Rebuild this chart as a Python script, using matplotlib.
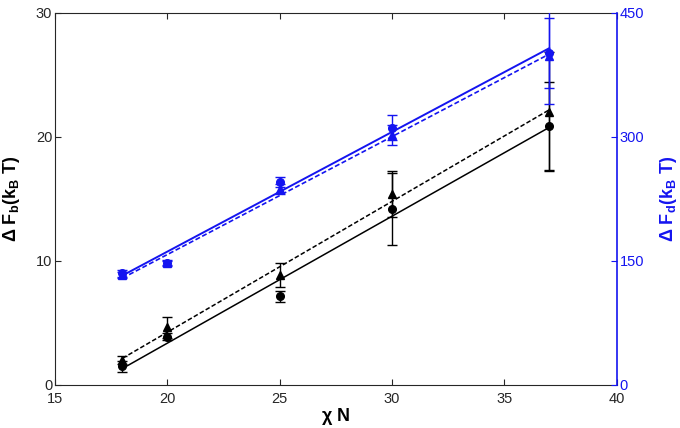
import numpy as np
import matplotlib
matplotlib.use('Agg')
import matplotlib.pyplot as plt

plt.rcParams['font.family'] = ['Liberation Sans', 'DejaVu Sans']
plt.rcParams['mathtext.fontset'] = 'custom'
plt.rcParams['mathtext.rm'] = 'Liberation Sans'
plt.rcParams['mathtext.bf'] = 'Liberation Sans:bold'
plt.rcParams['mathtext.it'] = 'Liberation Sans:italic'
plt.rcParams['mathtext.default'] = 'regular'

# chi N values
chi_n = [18, 20, 25, 30, 37]

# barrier free energy (left axis), circles and triangles
fb_circle = [1.5, 3.9, 7.15, 14.15, 20.85]
fb_circle_err = [0.45, 0.25, 0.45, 2.9, 3.55]
fb_tri = [2.0, 4.65, 8.85, 15.4, 22.0]
fb_tri_err = [0.3, 0.85, 0.95, 1.85, 4.8]

# defect free energy (right axis)
fd_circle = [135, 148, 245, 311, 401]
fd_circle_err = [4, 3, 6, 15, 42]
fd_tri = [133, 147, 237, 302, 397]
fd_tri_err = [4, 3, 6, 12, 57]

x_ticks = [15, 20, 25, 30, 35, 40]
left_ticks = [0, 10, 20, 30]
right_ticks = [0, 150, 300, 450]

BLUE = '#1414f0'
AXIS = '#262626'


def fit_line(x, y):
    p = np.polyfit(x, y, 1)
    xs = np.array([min(x), max(x)])
    return xs, np.polyval(p, xs)


fig = plt.figure(figsize=(6.8, 4.28), dpi=100)
ax = fig.add_axes([0.081, 0.1005, 0.826, 0.870])
ax2 = ax.twinx()

# black data on the left axis
ax.errorbar(chi_n, fb_circle, yerr=fb_circle_err, fmt='o', color='black',
            ms=5.5, capsize=3.5, elinewidth=1, capthick=1)
ax.errorbar(chi_n, fb_tri, yerr=fb_tri_err, fmt='^', color='black',
            ms=6, capsize=3.5, elinewidth=1, capthick=1)
xs, ys = fit_line(chi_n, fb_circle)
ax.plot(xs, ys, '-', color='black', lw=1.1)
xs, ys = fit_line(chi_n, fb_tri)
ax.plot(xs, ys, '--', color='black', lw=1.1, dashes=(3, 1.5))

# blue data on the right axis
ax2.errorbar(chi_n, fd_circle, yerr=fd_circle_err, fmt='o', color=BLUE,
             ms=5.5, capsize=3.5, elinewidth=1, capthick=1)
ax2.errorbar(chi_n, fd_tri, yerr=fd_tri_err, fmt='^', color=BLUE,
             ms=6, capsize=3.5, elinewidth=1, capthick=1)
xs, ys = fit_line(chi_n, fd_circle)
ax2.plot(xs, ys, '-', color=BLUE, lw=1.4)
xs, ys = fit_line(chi_n, fd_tri)
ax2.plot(xs, ys, '--', color=BLUE, lw=1.2, dashes=(3, 1.5))

ax.set_xlim(15, 40)
ax.set_ylim(0, 30)
ax2.set_ylim(0, 450)
ax.set_xticks(x_ticks)
ax.set_yticks(left_ticks)
ax2.set_yticks(right_ticks)

ax.tick_params(axis='x', direction='in', top=True, length=4, labelsize=10.5,
               colors=AXIS, pad=5)
ax.tick_params(axis='y', direction='in', right=False, length=4, labelsize=10.5,
               colors=AXIS, pad=2)
ax2.tick_params(axis='y', direction='in', length=4, labelsize=10.5,
                colors=BLUE, pad=2)

for s in ['left', 'top', 'bottom']:
    ax.spines[s].set_color(AXIS)
ax.spines['right'].set_visible(False)
for s in ['left', 'top', 'bottom']:
    ax2.spines[s].set_visible(False)
ax2.spines['right'].set_color(BLUE)
ax2.spines['right'].set_linewidth(1.2)

ax.set_xlabel(r'$\chi$ N', fontsize=13, fontweight='bold', labelpad=0)
ax.set_ylabel(r'Δ F$_\mathbf{b}$(k$_\mathbf{B}$ T)', fontsize=13,
              fontweight='bold', labelpad=10)
ax2.set_ylabel(r'Δ F$_\mathbf{d}$(k$_\mathbf{B}$ T)', fontsize=13,
               fontweight='bold', color=BLUE, labelpad=10)

fig.savefig('out.png', dpi=100)
